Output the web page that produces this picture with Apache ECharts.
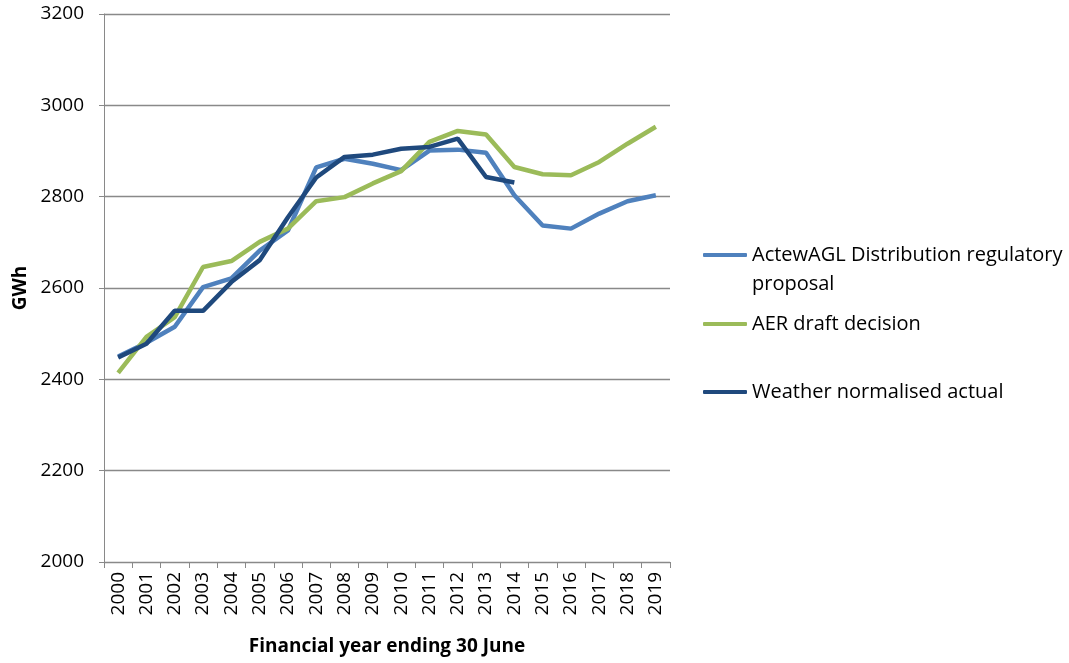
<!DOCTYPE html>
<html>
<head>
<meta charset="utf-8">
<script src="https://cdn.jsdelivr.net/npm/echarts@6/dist/echarts.min.js"></script>
<style>html,body{margin:0;padding:0;background:#fff;}#chart{width:1069px;height:663px;}</style>
</head>
<body>
<div id="chart"></div>
<script>
const years = ['2000','2001','2002','2003','2004','2005','2006','2007','2008','2009','2010','2011','2012','2013','2014','2015','2016','2017','2018','2019'];
const proposal = [2450,2480,2515,2602,2621,2682,2726,2864,2883,2872,2858,2901,2903,2896,2803,2737,2730,2763,2790,2803];
const aerDraft = [2414,2493,2536,2646,2659,2701,2730,2790,2799,2829,2856,2920,2944,2936,2865,2849,2847,2876,2916,2953];
const actual = [2448,2478,2550,2550,2613,2661,2755,2842,2887,2892,2905,2909,2927,2843,2831,null,null,null,null,null];
const yTicks = [2000,2200,2400,2600,2800,3000,3200];

const names = ['ActewAGL Distribution regulatory proposal','AER draft decision','Weather normalised actual'];
const legendLine1 = 'ActewAGL Distribution regulatory';
const legendLine2 = 'proposal';
const colors = ['#4F81BD','#9BBB59','#1F497D'];
const FONT = 'Open Sans';

const chart = echarts.init(document.getElementById('chart'), null, {renderer:'canvas'});
function legendFor(i, top, extra) {
  return Object.assign({
    data: [names[i]], left: 703, top: top, orient: 'vertical',
    itemWidth: 44, itemHeight: 4, itemGap: 0, padding: 0,
    icon: 'roundRect', selectedMode: false,
    textStyle: {fontFamily: FONT, fontSize: 20, color: '#000', lineHeight: 28}
  }, extra || {});
}
chart.setOption({
  animation: false,
  color: colors,
  textStyle: {fontFamily: FONT},
  grid: {left: 104, right: 399, top: 14, bottom: 101, containLabel: false},
  legend: [
    legendFor(0, 241, {formatter: function(){ return legendLine1; }}),
    legendFor(1, 310),
    legendFor(2, 378)
  ],
  graphic: [{
    type: 'text', left: 752, top: 274,
    style: {text: legendLine2, fontFamily: FONT, fontSize: 20, fill: '#000'}
  }],
  xAxis: {
    type: 'category', data: years, boundaryGap: true,
    name: 'Financial year ending 30 June', nameLocation: 'middle', nameGap: 75,
    nameTextStyle: {fontFamily: FONT, fontSize: 19, fontWeight: 'bold', color: '#000'},
    axisLine: {lineStyle: {color: '#898989', width: 1}},
    axisTick: {show: true, length: 6, lineStyle: {color: '#898989'}},
    axisLabel: {rotate: 90, margin: 10, fontFamily: FONT, fontSize: 19, color: '#000', interval: 0},
    splitLine: {show: false}
  },
  yAxis: {
    type: 'value', min: 2000, max: 3200, interval: 200,
    name: 'GWh', nameLocation: 'middle', nameGap: 70, nameRotate: 90,
    nameTextStyle: {fontFamily: FONT, fontSize: 19, fontWeight: 'bold', color: '#000'},
    axisLine: {show: true, lineStyle: {color: '#898989', width: 1}},
    axisTick: {show: true, length: 5, lineStyle: {color: '#898989'}},
    axisLabel: {margin: 20, fontFamily: FONT, fontSize: 19, color: '#000',
      formatter: function(v){ return yTicks.indexOf(v) >= 0 ? String(v) : ''; }},
    splitLine: {show: true, lineStyle: {color: '#898989', width: 1.3}}
  },
  series: [
    {name: names[0], type: 'line', data: proposal, symbol: 'none', lineStyle: {width: 4.5, color: colors[0]}, itemStyle: {color: colors[0]}},
    {name: names[1], type: 'line', data: aerDraft, symbol: 'none', lineStyle: {width: 4.5, color: colors[1]}, itemStyle: {color: colors[1]}},
    {name: names[2], type: 'line', data: actual, symbol: 'none', lineStyle: {width: 4.5, color: colors[2]}, itemStyle: {color: colors[2]}}
  ]
});
</script>
</body>
</html>
